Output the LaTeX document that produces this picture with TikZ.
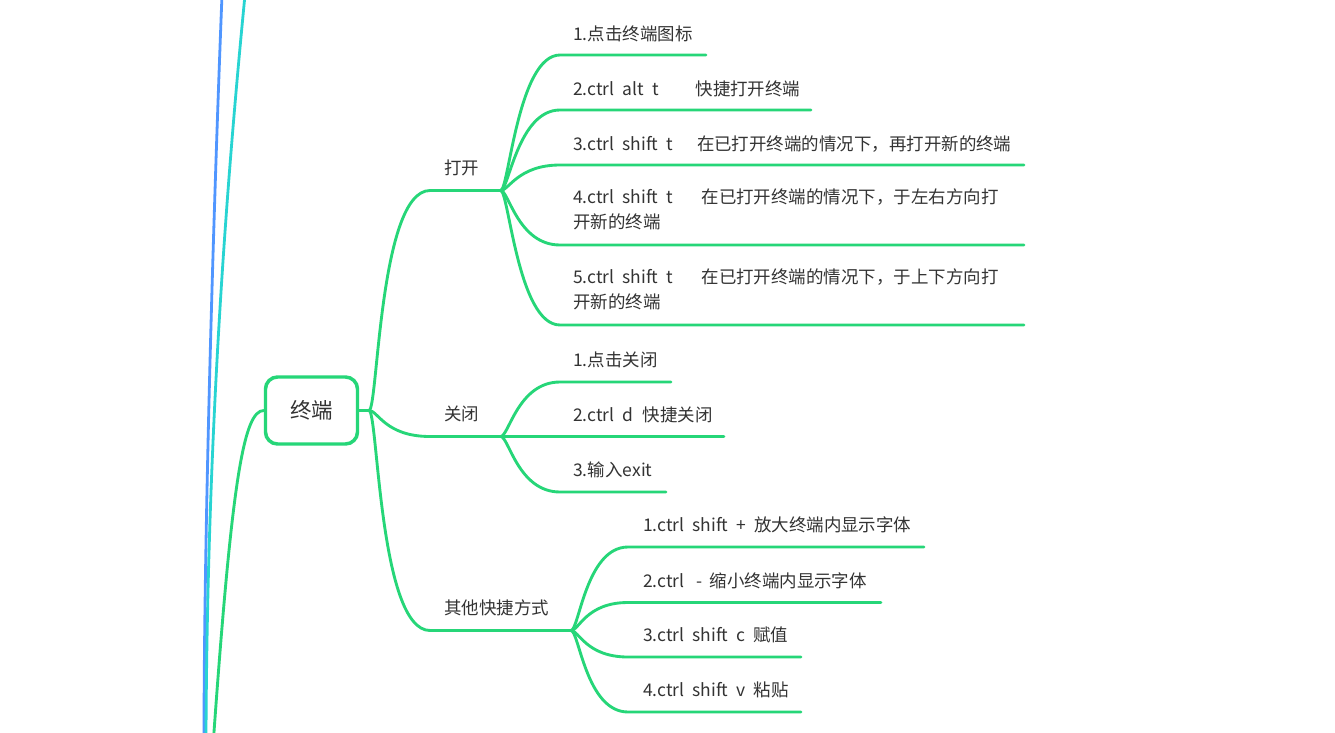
\documentclass[tikz,border=0pt]{standalone}
\usepackage{fontspec}
\setmainfont{Noto Sans CJK SC}
\newlength\pxu
\setlength\pxu{0.75pt}
\newcommand\gp[1]{\hspace*{#1\pxu}}
\definecolor{mmgreen}{RGB}{38,214,120}
\definecolor{mmblue}{RGB}{80,150,255}
\definecolor{mmcyan}{RGB}{40,212,210}
\definecolor{mmtext}{RGB}{51,51,51}
\begin{document}
\begin{tikzpicture}[x=0.75pt,y=-0.75pt,
  conn/.style={draw=mmgreen,line width=2.15pt,line cap=round},
  farconn/.style={line width=2.1pt,line cap=round},
  lbl/.style={anchor=base west,inner sep=0pt,text=mmtext,font=\fontsize{13.1pt}{18.75pt}\selectfont,align=left},
  rootbox/.style={draw=mmgreen,line width=2.6pt,rounded corners=9pt,minimum width=69pt,minimum height=50.25pt,inner sep=0pt,fill=white,text=mmtext,font=\fontsize{16.1pt}{20pt}\selectfont}]
\useasboundingbox (0,0) rectangle (1335,732);
\fill[white] (0,0) rectangle (1335,732);
\clip (0,0) rectangle (1335,732);

% far-away branches at the left edge
\coordinate (bT) at (222,-5);
\coordinate (bB) at (204,740);
\coordinate (cT) at (245,-5);
\coordinate (cB) at (206,740);
\draw[farconn,draw=mmblue] (bT) .. controls (212,250) and (204,550) .. (bB);
\draw[farconn,draw=mmcyan] (cT) .. controls (225,200) and (207,450) .. (cB);

% root
\node[rootbox] (root) at (311.5,410.5) {终端};
\coordinate (lEnd) at (214,732);
\coordinate (lOut) at (212,760);
\draw[conn] (root.west) .. controls +(-20,0) and +(18,-252) .. (lEnd) -- (lOut);
\coordinate (hub) at (369,410.5);
\draw[conn] (root.east) -- (hub);

% level 1
\node[lbl] (open) at (444,174.5) {打开};
\node[lbl] (close) at (444,420.5) {关闭};
\node[lbl] (other) at (444,614.5) {其他快捷方式};
\coordinate (openS) at (430,190.5);
\coordinate (openE) at (500.7,190.5);
\coordinate (closeS) at (430,436.5);
\coordinate (closeE) at (500.7,436.5);
\coordinate (otherS) at (430,630.5);
\coordinate (otherE) at (571,630.5);
\draw[conn] (hub) .. controls +(9,0) and +(-51,0) .. (openS) -- (openE);
\draw[conn] (hub) .. controls +(9,0) and +(-45,0) .. (closeS) -- (closeE);
\draw[conn] (hub) .. controls +(9,0) and +(-51,0) .. (otherS) -- (otherE);

% open children
\node[lbl] (o1) at (573,40) {1.点击终端图标};
\node[lbl] (o2) at (573,95) {2.ctrl\gp{8}alt\gp{8}t\gp{37}快捷打开终端};
\node[lbl] (o3) at (573,150) {3.ctrl\gp{8}shift\gp{8}t\gp{24}在已打开终端的情况下，再打开新的终端};
\node[lbl] (o4) at (573,228) {4.ctrl\gp{8}shift\gp{8}t\gp{28.5}在已打开终端的情况下，于左右方向打\\开新的终端};
\node[lbl] (o5) at (573,308) {5.ctrl\gp{8}shift\gp{8}t\gp{28.5}在已打开终端的情况下，于上下方向打\\开新的终端};
\coordinate (o1S) at (560,55);   \coordinate (o1E) at (706,55);
\coordinate (o2S) at (560,110);  \coordinate (o2E) at (811,110);
\coordinate (o3S) at (560,165);  \coordinate (o3E) at (1024,165);
\coordinate (o4S) at (560,245);  \coordinate (o4E) at (1024,245);
\coordinate (o5S) at (560,325);  \coordinate (o5E) at (1024,325);
\foreach \k in {o1,o2,o3,o4,o5}
  \draw[conn] (openE) .. controls +(8,0) and +(-42,0) .. (\k S) -- (\k E);

% close children
\node[lbl] (c1) at (573,366) {1.点击关闭};
\node[lbl] (c2) at (573,421) {2.ctrl\gp{8}d\gp{9.5}快捷关闭};
\node[lbl] (c3) at (573,476) {3.输入exit};
\coordinate (c1S) at (560,382);  \coordinate (c1E) at (671,382);
\coordinate (c2E) at (724,436.5);
\coordinate (c3S) at (560,492);  \coordinate (c3E) at (666,492);
\draw[conn] (closeE) .. controls +(8,0) and +(-42,0) .. (c1S) -- (c1E);
\draw[conn] (closeE) -- (c2E);
\draw[conn] (closeE) .. controls +(8,0) and +(-42,0) .. (c3S) -- (c3E);

% other children
\node[lbl] (s1) at (643,531) {1.ctrl\gp{8}shift\gp{8}+\gp{8}放大终端内显示字体};
\node[lbl] (s2) at (643,587) {2.ctrl\gp{12}-\gp{7}缩小终端内显示字体};
\node[lbl] (s3) at (643,641) {3.ctrl\gp{8}shift\gp{8}c\gp{8}赋值};
\node[lbl] (s4) at (643,696) {4.ctrl\gp{8}shift\gp{8}v\gp{8}粘贴};
\coordinate (s1S) at (628,547);  \coordinate (s1E) at (924,547);
\coordinate (s2S) at (628,602.5);\coordinate (s2E) at (881,602.5);
\coordinate (s3S) at (628,657);  \coordinate (s3E) at (801,657);
\coordinate (s4S) at (628,712);  \coordinate (s4E) at (801,712);
\foreach \k in {s1,s2,s3,s4}
  \draw[conn] (otherE) .. controls +(8,0) and +(-42,0) .. (\k S) -- (\k E);
\end{tikzpicture}
\end{document}
